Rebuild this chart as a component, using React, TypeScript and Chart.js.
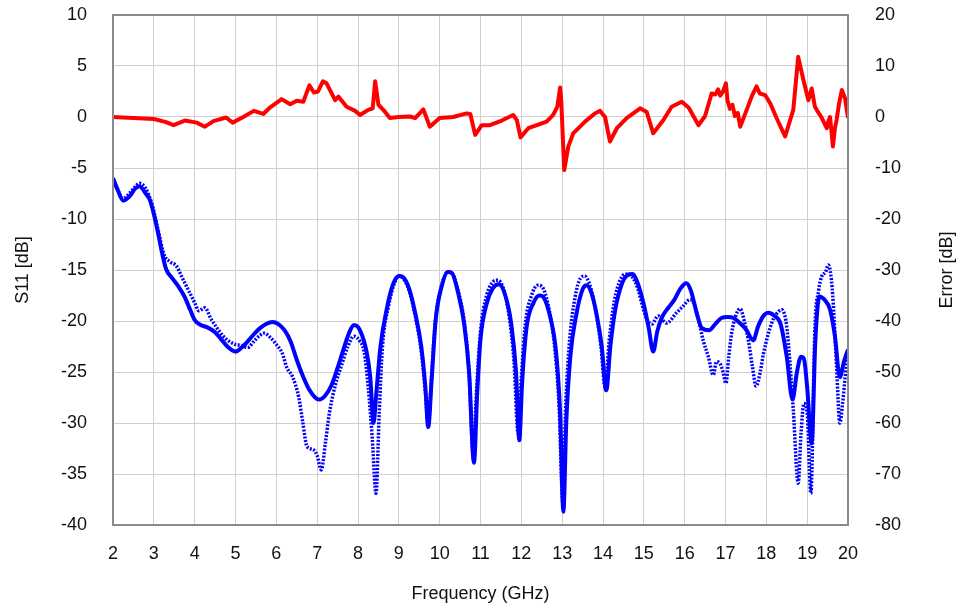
import React, { useEffect, useRef } from "react";
import { Chart, registerables } from "chart.js";

Chart.register(...registerables);

// Frequency (GHz) / S11 (dB), solid curve
const solidFreq = [2.0, 2.1, 2.25, 2.4, 2.55, 2.65, 2.8, 2.9, 3.0, 3.1, 3.2, 3.3, 3.45, 3.6, 3.75, 3.9, 4.0, 4.15, 4.3, 4.5, 4.65, 4.8, 5.0, 5.15, 5.3, 5.45, 5.6, 5.75, 5.9, 6.05, 6.2, 6.35, 6.5, 6.65, 6.8, 6.95, 7.05, 7.2, 7.35, 7.5, 7.65, 7.8, 7.9, 8.0, 8.1, 8.2, 8.3, 8.38, 8.45, 8.55, 8.7, 8.85, 9.0, 9.1, 9.25, 9.4, 9.55, 9.65, 9.72, 9.8, 9.9, 10.05, 10.2, 10.3, 10.45, 10.6, 10.72, 10.84, 10.92, 11.0, 11.15, 11.3, 11.45, 11.6, 11.75, 11.87, 11.95, 12.02, 12.13, 12.3, 12.45, 12.55, 12.7, 12.85, 12.95, 13.03, 13.1, 13.2, 13.35, 13.5, 13.6, 13.72, 13.85, 13.97, 14.08, 14.18, 14.3, 14.45, 14.6, 14.72, 14.85, 15.0, 15.12, 15.23, 15.33, 15.45, 15.6, 15.75, 15.9, 16.04, 16.15, 16.3, 16.42, 16.6, 16.75, 16.9, 17.05, 17.2, 17.35, 17.5, 17.68, 17.8, 17.95, 18.05, 18.2, 18.35, 18.5, 18.64, 18.75, 18.85, 18.92, 19.0, 19.11, 19.2, 19.3, 19.42, 19.56, 19.68, 19.8, 19.9, 20.0];
const solidS11 = [-6.0, -7.0, -8.2, -7.8, -7.0, -6.8, -7.5, -8.1, -9.5, -11.3, -13.3, -14.9, -15.8, -16.6, -17.6, -19.0, -19.9, -20.4, -20.6, -21.1, -21.8, -22.5, -23.0, -22.6, -22.0, -21.3, -20.7, -20.3, -20.1, -20.3, -20.9, -22.0, -23.8, -25.4, -26.7, -27.5, -27.7, -27.3, -26.3, -24.6, -22.7, -21.0, -20.4, -20.6, -21.4, -22.8, -25.5, -30.0, -27.0, -22.5, -18.9, -16.5, -15.6, -15.7, -16.8, -19.2, -22.5, -26.5, -30.4, -26.0, -20.0, -16.6, -15.2, -15.3, -17.2, -20.3, -25.0, -33.9, -27.0, -21.8, -18.3, -16.8, -16.4, -17.4, -20.2, -25.0, -31.7, -26.0, -20.6, -18.2, -17.5, -17.7, -19.5, -23.0, -29.0, -38.7, -30.0, -23.5, -19.3, -16.9, -16.5, -17.3, -19.5, -22.5, -26.8, -22.5, -18.9, -16.5, -15.5, -15.4, -16.3, -18.4, -20.7, -23.0, -21.0, -19.6, -18.7, -17.9, -16.8, -16.3, -17.0, -19.3, -20.7, -20.9, -20.3, -19.7, -19.6, -19.7, -20.2, -20.8, -21.9, -20.5, -19.4, -19.2, -19.5, -20.3, -23.5, -27.7, -25.0, -23.5, -23.7, -26.5, -32.0, -22.0, -17.6, -17.9, -18.9, -21.5, -25.5, -24.0, -22.8];

// Frequency (GHz) / S11 (dB), dotted curve
const dottedFreq = [2.0, 2.1, 2.25, 2.4, 2.55, 2.65, 2.8, 2.95, 3.1, 3.25, 3.4, 3.55, 3.7, 3.85, 4.0, 4.1, 4.25, 4.4, 4.55, 4.7, 4.85, 5.0, 5.15, 5.3, 5.45, 5.6, 5.7, 5.85, 6.0, 6.15, 6.25, 6.4, 6.55, 6.65, 6.75, 6.9, 7.0, 7.1, 7.2, 7.3, 7.45, 7.6, 7.75, 7.9, 8.05, 8.15, 8.25, 8.35, 8.44, 8.52, 8.6, 8.75, 8.9, 9.0, 9.1, 9.25, 9.4, 9.55, 9.65, 9.72, 9.8, 9.9, 10.05, 10.2, 10.3, 10.45, 10.6, 10.72, 10.82, 10.9, 11.0, 11.15, 11.3, 11.42, 11.55, 11.7, 11.82, 11.92, 12.0, 12.1, 12.25, 12.4, 12.5, 12.65, 12.8, 12.92, 13.02, 13.08, 13.18, 13.32, 13.45, 13.55, 13.68, 13.82, 13.95, 14.05, 14.15, 14.28, 14.42, 14.55, 14.7, 14.85, 15.0, 15.1, 15.2, 15.35, 15.56, 15.8, 15.95, 16.13, 16.22, 16.34, 16.46, 16.58, 16.7, 16.78, 16.87, 16.94, 17.01, 17.08, 17.15, 17.25, 17.36, 17.46, 17.56, 17.66, 17.75, 17.85, 17.93, 18.13, 18.25, 18.38, 18.48, 18.54, 18.66, 18.78, 18.85, 18.92, 19.0, 19.09, 19.19, 19.28, 19.36, 19.45, 19.52, 19.58, 19.64, 19.72, 19.8, 19.87, 19.93, 20.0];
const dottedS11 = [-6.0, -7.0, -8.0, -7.5, -6.8, -6.5, -7.0, -8.5, -11.0, -13.5, -14.2, -14.6, -15.8, -17.0, -18.2, -19.0, -18.7, -19.8, -20.7, -21.5, -22.0, -22.3, -22.4, -22.6, -22.0, -21.4, -21.2, -21.6, -22.3, -23.2, -24.5, -25.5, -27.5, -30.0, -32.3, -32.6, -33.2, -34.6, -32.0, -29.0, -26.2, -24.3, -22.5, -21.5, -22.0, -23.0, -26.5, -31.5, -36.9, -29.0, -22.5, -18.5, -16.2, -15.6, -15.8, -17.0, -19.5, -23.0, -27.0, -30.2, -25.5, -19.8, -16.5, -15.2, -15.3, -17.0, -20.0, -25.0, -33.0, -27.0, -21.0, -17.5, -16.2, -16.0, -16.7, -19.5, -24.0, -31.0, -25.5, -20.2, -17.5, -16.5, -16.6, -18.3, -22.0, -28.0, -38.0, -29.0, -22.0, -17.6, -15.8, -15.6, -16.5, -19.0, -22.5, -26.5, -22.0, -18.0, -16.0, -15.4, -15.6, -16.8, -19.0, -20.0, -20.3, -19.5, -20.2, -19.2, -18.6, -17.9, -18.2, -19.9, -22.0, -23.5, -25.3, -24.0, -24.2, -25.0, -26.1, -23.5, -21.2, -19.5, -18.8, -20.0, -21.9, -24.5, -26.4, -25.0, -23.2, -20.2, -19.3, -18.9, -20.0, -22.2, -28.7, -35.9, -31.0, -28.1, -29.0, -36.9, -20.6, -17.0, -15.6, -15.2, -14.5, -15.5, -18.3, -24.5, -30.0, -28.0, -25.5, -22.8];

// Frequency (GHz) / Error (dB), right axis
const errorFreq = [2.0, 2.5, 3.0, 3.3, 3.48, 3.76, 4.05, 4.25, 4.46, 4.77, 4.93, 5.19, 5.45, 5.68, 5.85, 6.13, 6.34, 6.5, 6.66, 6.81, 6.92, 7.02, 7.14, 7.23, 7.44, 7.52, 7.72, 7.93, 8.05, 8.25, 8.36, 8.42, 8.5, 8.62, 8.78, 8.99, 9.27, 9.4, 9.6, 9.76, 10.0, 10.33, 10.66, 10.75, 10.87, 11.03, 11.23, 11.52, 11.8, 11.89, 11.98, 12.17, 12.38, 12.62, 12.78, 12.88, 12.95, 12.98, 13.05, 13.15, 13.27, 13.56, 13.8, 13.93, 14.05, 14.17, 14.34, 14.58, 14.91, 15.07, 15.23, 15.48, 15.68, 15.93, 16.1, 16.34, 16.5, 16.66, 16.75, 16.82, 16.87, 16.94, 17.01, 17.05, 17.11, 17.17, 17.23, 17.3, 17.36, 17.5, 17.65, 17.76, 17.84, 17.97, 18.1, 18.25, 18.46, 18.66, 18.78, 18.91, 19.03, 19.11, 19.19, 19.28, 19.36, 19.42, 19.48, 19.52, 19.56, 19.6, 19.63, 19.68, 19.72, 19.78, 19.85, 19.93, 20.0];
const errorVal = [0.0, -0.2, -0.4, -1.0, -1.6, -0.7, -1.1, -1.9, -0.8, -0.1, -1.1, 0.0, 1.2, 0.6, 1.9, 3.5, 2.5, 3.2, 3.0, 6.2, 4.8, 5.0, 7.0, 6.6, 3.3, 4.0, 2.0, 1.2, 0.4, 1.4, 1.7, 7.0, 2.4, 1.4, -0.2, 0.0, 0.1, -0.2, 1.5, -1.9, -0.2, 0.0, 0.7, 0.6, -3.5, -1.6, -1.6, -0.7, 0.4, -0.6, -4.0, -2.2, -1.6, -0.9, 0.4, 2.0, 5.8, 2.8, -10.4, -5.8, -3.2, -0.9, 0.7, 1.2, 0.0, -4.8, -2.2, -0.2, 1.7, 1.0, -3.2, -0.6, 2.0, 3.0, 1.8, -1.6, 0.2, 4.6, 4.4, 5.4, 4.2, 5.0, 6.6, 3.2, 1.6, 2.4, 0.2, 0.8, -1.9, 1.0, 4.2, 6.0, 4.6, 4.3, 2.6, -0.2, -3.8, 1.4, 11.8, 7.2, 3.3, 5.6, 2.0, 0.8, -0.2, -1.2, -2.2, -0.8, 0.0, -3.2, -5.8, -2.2, -0.6, 2.6, 5.3, 3.6, -0.2];

const xTicks = [2, 20, 1];
const s11Range = [-40, 10, 5];
const errorRange = [-80, 20, 10];

const toPts = (xs: number[], ys: number[]) => xs.map((x, i) => ({ x, y: ys[i] }));

const FONT = "'Liberation Sans', Arial, sans-serif";

export default function App() {
  const ref = useRef<HTMLCanvasElement | null>(null);
  useEffect(() => {
    if (!ref.current) return;
    const borderPlugin = {
      id: "plotBorder",
      afterDatasetsDraw(chart: any) {
        const { ctx, chartArea: a } = chart;
        ctx.save();
        ctx.strokeStyle = "#8a8a8a";
        ctx.lineWidth = 2;
        ctx.strokeRect(a.left, a.top, a.right - a.left, a.bottom - a.top);
        ctx.restore();
      },
      afterDraw(chart: any) {
        const { ctx, chartArea: a } = chart;
        ctx.save();
        ctx.fillStyle = "#111";
        ctx.font = `18px ${FONT}`;
        ctx.textAlign = "center";
        ctx.textBaseline = "middle";
        ctx.translate(947, (a.top + a.bottom) / 2);
        ctx.rotate(-Math.PI / 2);
        ctx.fillText("Error [dB]", 0, 0);
        ctx.restore();
      },
    };
    const fixV = (w: number) => (s: any) => {
      s.width = w;
      s.paddingTop = 8;
      s.paddingBottom = 8;
    };
    const chart = new Chart(ref.current, {
      type: "line",
      data: {
        datasets: [
          {
            label: "Error",
            data: toPts(errorFreq, errorVal),
            yAxisID: "y2",
            borderColor: "#ff0000",
            borderWidth: 4,
            pointRadius: 0,
            tension: 0,
            borderJoinStyle: "round",
          },
          {
            label: "S11 dotted",
            data: toPts(dottedFreq, dottedS11),
            yAxisID: "y",
            borderColor: "#0000ff",
            borderWidth: 3.5,
            borderDash: [2, 1.5],
            pointRadius: 0,
            cubicInterpolationMode: "monotone",
          },
          {
            label: "S11 solid",
            data: toPts(solidFreq, solidS11),
            yAxisID: "y",
            borderColor: "#0000ff",
            borderWidth: 4,
            pointRadius: 0,
            cubicInterpolationMode: "monotone",
          },
        ],
      },
      options: {
        animation: false,
        responsive: false,
        devicePixelRatio: 1,
        layout: { padding: { top: 15, left: 0, right: 0, bottom: 0 } },
        plugins: { legend: { display: false }, tooltip: { enabled: false } },
        scales: {
          x: {
            type: "linear",
            min: xTicks[0],
            max: xTicks[1],
            afterFit: (s: any) => { s.height = 84; },
            ticks: { stepSize: xTicks[2], padding: 18, color: "#111", font: { size: 18, family: FONT } },
            grid: { color: "#cfcfcf", lineWidth: 1, drawTicks: false },
            border: { display: false },
            title: { display: true, text: "Frequency (GHz)", color: "#111", font: { size: 18, family: FONT }, padding: { top: 0, bottom: 4 } },
          },
          y: {
            position: "left",
            min: s11Range[0],
            max: s11Range[1],
            afterFit: fixV(113),
            ticks: { stepSize: s11Range[2], padding: 26, color: "#111", font: { size: 18, family: FONT } },
            grid: { color: "#cfcfcf", lineWidth: 1, drawTicks: false },
            border: { display: false },
            title: { display: true, text: "S11 [dB]", color: "#111", font: { size: 18, family: FONT }, padding: { top: 12, bottom: 0 } },
          },
          y2: {
            position: "right",
            min: errorRange[0],
            max: errorRange[1],
            afterFit: fixV(114),
            ticks: { stepSize: errorRange[2], padding: 27, color: "#111", font: { size: 18, family: FONT } },
            grid: { display: false, drawTicks: false },
            border: { display: false },
          },
        },
      },
      plugins: [borderPlugin],
    } as any);
    return () => chart.destroy();
  }, []);
  return (
    <div style={{ position: "absolute", left: 0, top: 0, width: 962, height: 609, background: "#fff" }}>
      <canvas ref={ref} width={962} height={609} />
    </div>
  );
}
